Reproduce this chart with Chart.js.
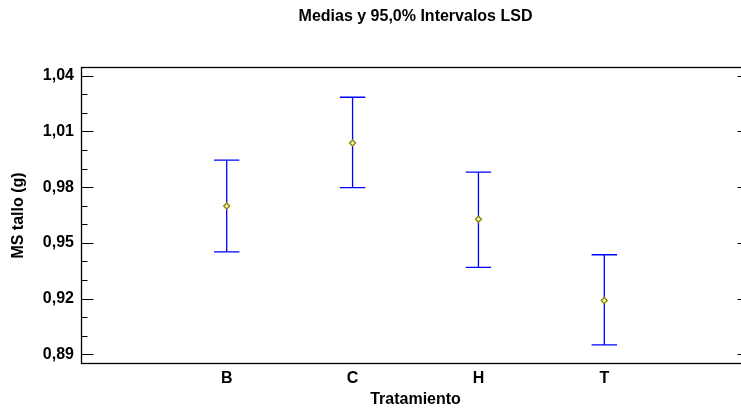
<!DOCTYPE html>
<html>
<head>
<meta charset="utf-8">
<script src="https://cdn.jsdelivr.net/npm/chart.js@4/dist/chart.umd.min.js"></script>
<style>
  html, body { margin: 0; padding: 0; background: #fff; overflow: hidden; }
  canvas { display: block; }
</style>
</head>
<body>
<canvas id="myChart" width="760" height="412"></canvas>
<script>
// data
const categories = ['B', 'C', 'H', 'T'];
const means = [0.9698, 1.0038, 0.9627, 0.9190];
const upper = [0.9946, 1.0284, 0.9881, 0.9436];
const lower = [0.9452, 0.9797, 0.9368, 0.8951];
const yMajorTicks = [0.89, 0.92, 0.95, 0.98, 1.01, 1.04];
const yMinorTicks = [0.90, 0.91, 0.93, 0.94, 0.96, 0.97, 0.99, 1.00, 1.02, 1.03];

Chart.defaults.font.family = '"Liberation Sans", Arial, sans-serif';
Chart.defaults.color = '#000';

const boldFont = { size: 16, weight: 'bold', lineHeight: 1.2 };

// frame, inward ticks and the LSD bars
const errorBars = {
    id: 'errorBars',
    beforeDatasetsDraw(chart) {
        const ctx = chart.ctx;
        const a = chart.chartArea;
        const x = chart.scales.x;
        const y = chart.scales.y;
        ctx.save();

        ctx.strokeStyle = '#000';
        ctx.lineWidth = 1.3;
        ctx.strokeRect(a.left, a.top, a.right - a.left, a.bottom - a.top);

        ctx.lineWidth = 1;
        function tick(v, len) {
            let py = Math.round(y.getPixelForValue(v)) + 0.5;
            ctx.beginPath();
            ctx.moveTo(a.left, py);
            ctx.lineTo(a.left + len, py);
            ctx.moveTo(a.right, py);
            ctx.lineTo(a.right - len, py);
            ctx.stroke();
        }
        yMajorTicks.forEach(v => tick(v, 12));
        yMinorTicks.forEach(v => tick(v, 6));

        ctx.strokeStyle = '#0000ff';
        ctx.lineWidth = 1.3;
        categories.forEach((c, i) => {
            let px = x.getPixelForValue(i + 1);
            let top = y.getPixelForValue(upper[i]);
            let bot = y.getPixelForValue(lower[i]);
            ctx.beginPath();
            ctx.moveTo(px, top);
            ctx.lineTo(px, bot);
            ctx.moveTo(px - 12.7, top);
            ctx.lineTo(px + 12.7, top);
            ctx.moveTo(px - 12.7, bot);
            ctx.lineTo(px + 12.7, bot);
            ctx.stroke();
        });
        ctx.restore();
    }
};

var ctx = document.getElementById('myChart').getContext('2d');
var chart = new Chart(ctx, {
    type: 'scatter',
    data: {
        datasets: [{
            label: 'media',
            data: categories.map((c, i) => ({ x: i + 1, y: means[i] })),
            pointStyle: 'rectRot',
            pointRadius: 3,
            borderWidth: 1.4,
            borderColor: '#8f8a00',
            backgroundColor: '#f4f0c8'
        }]
    },
    options: {
        responsive: false,
        animation: false,
        devicePixelRatio: 1,
        layout: { padding: { left: 0, right: 10.5, top: 0, bottom: 0 } },
        plugins: {
            legend: { display: false },
            tooltip: { enabled: false },
            title: {
                display: true,
                fullSize: false,
                text: 'Medias y 95,0% Intervalos LSD',
                font: boldFont,
                color: '#000',
                padding: { top: 6.9, bottom: 41.4 }
            }
        },
        scales: {
            x: {
                type: 'linear',
                min: -0.1536,
                max: 5.1536,
                grid: { display: false, drawTicks: false },
                border: { display: false },
                afterBuildTicks: s => { s.ticks = categories.map((c, i) => ({ value: i + 1 })); },
                ticks: {
                    callback: v => categories[v - 1],
                    font: boldFont,
                    color: '#000',
                    padding: 5.4,
                    autoSkip: false,
                    maxRotation: 0
                },
                title: {
                    display: true,
                    text: 'Tratamiento',
                    font: boldFont,
                    color: '#000',
                    padding: { top: 0, bottom: 2.9 }
                },
                afterFit: s => { s.height = 48.5; }
            },
            y: {
                min: 0.88505,
                max: 1.04442,
                grid: { display: false, drawTicks: false },
                border: { display: false },
                afterBuildTicks: s => { s.ticks = yMajorTicks.map(v => ({ value: v })); },
                ticks: {
                    callback: v => v.toFixed(2).replace('.', ','),
                    font: boldFont,
                    color: '#000',
                    padding: 7.5
                },
                title: {
                    display: true,
                    text: 'MS tallo (g)',
                    font: boldFont,
                    color: '#000',
                    padding: { top: 9.4, bottom: 0 }
                },
                afterFit: s => { s.width = 81.5; }
            }
        }
    },
    plugins: [errorBars]
});
</script>
</body>
</html>
